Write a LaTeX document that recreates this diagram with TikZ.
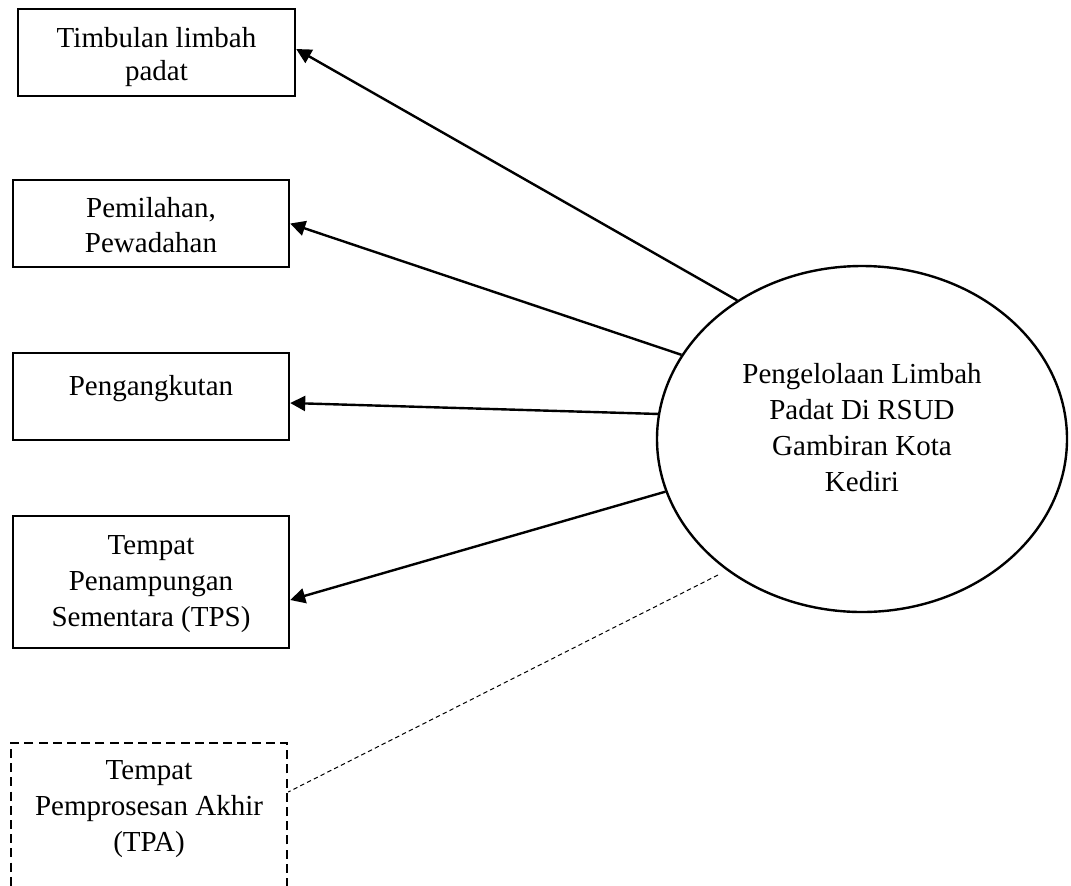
\documentclass[tikz,border=0pt]{standalone}
\usepackage{fontspec}
\setmainfont{Liberation Serif}
\usetikzlibrary{arrows.meta,shapes.geometric,calc}
\begin{document}
\begin{tikzpicture}[x=0.5pt,y=-0.5pt,
  box/.style={draw,line width=1.2pt,rectangle,inner sep=0pt,minimum width=138pt},
  dbox/.style={box,dash pattern=on 4.5pt off 2.6pt},
  lbl/.style={align=center,inner sep=0pt},
  arr/.style={line width=1.2pt,-{Triangle[length=7.5pt,width=7.5pt]}},
  thin dash/.style={line width=0.5pt,dash pattern=on 2.2pt off 1.6pt},
]
\useasboundingbox (0,0) rectangle (1071,885);

% boxes
\node[box,minimum width=138.5pt,minimum height=43.5pt] (b1) at (156.5,52.5) {};
\node[lbl,font=\fontsize{14.5pt}{16.5pt}\selectfont] (t1) at (156.5,56.8) {Timbulan limbah\\padat};

\node[box,minimum height=43.5pt] (b2) at (151,223.5) {};
\node[lbl,font=\fontsize{14.5pt}{17.5pt}\selectfont] (t2) at (151,224.6) {Pemilahan,\\Pewadahan};

\node[box,minimum height=43.5pt] (b3) at (151,396.5) {};
\node[lbl,font=\fontsize{14.5pt}{17.5pt}\selectfont] (t3) at (151,388.3) {Pengangkutan};

\node[box,minimum height=66pt] (b4) at (151,582) {};
\node[lbl,font=\fontsize{14.5pt}{18pt}\selectfont] (t4) at (151,584.5) {Tempat\\Penampungan\\Sementara (TPS)};

\node[dbox,minimum height=76pt] (b5) at (149,819) {};
\node[lbl,font=\fontsize{14.5pt}{18pt}\selectfont] (t5) at (149,809.5) {Tempat\\Pemprosesan Akhir\\(TPA)};

% ellipse
\node[draw,ellipse,line width=1.2pt,inner sep=0pt,minimum width=205pt,minimum height=173pt] (e) at (862,439) {};
\node[lbl,font=\fontsize{14.5pt}{18pt}\selectfont] (te) at (862,427.6) {Pengelolaan Limbah\\Padat Di RSUD\\Gambiran Kota\\Kediri};

% connectors
\draw[arr] (e.132.4) -- ($(b1.east)+(0,-3.5)$);
\draw[arr] (e.155.5) -- (b2.east);
\draw[arr] (e.173.9) -- ($(b3.east)+(0,6.5)$);
\draw[arr] (e.195.3) -- ($(b4.east)+(0,18)$);
\coordinate (dend) at (718,575);
\draw[thin dash] (dend) -- ($(b5.east)+(0,-27)$);
\end{tikzpicture}
\end{document}
